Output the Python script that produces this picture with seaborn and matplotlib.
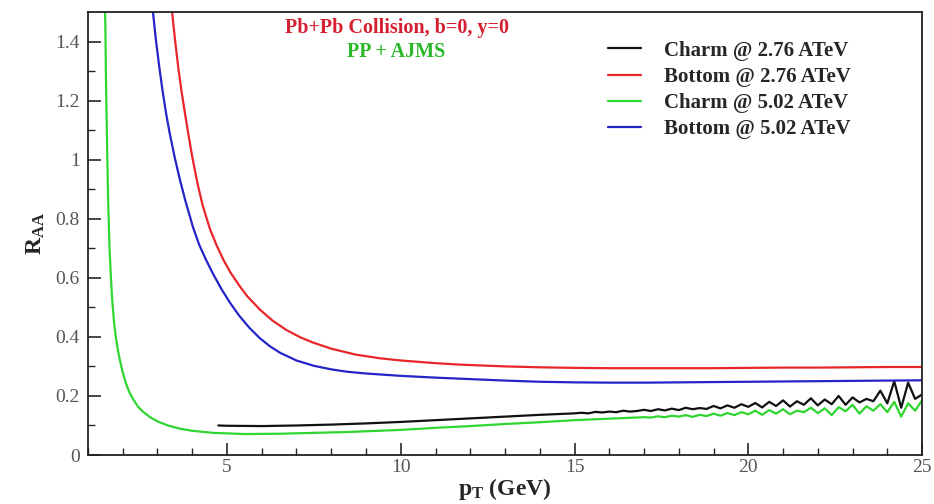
import numpy as np
import pandas as pd
import matplotlib
matplotlib.use("Agg")
import matplotlib.pyplot as plt
import seaborn as sns

# ---------------- data ----------------
charm276_x = [4.75, 5.0, 6.0, 7.0, 8.0, 9.0, 10.0, 11.0, 12.0, 13.0, 14.0, 15.0,
              15.2, 15.4, 15.6, 15.8, 16.0, 16.2, 16.4, 16.6, 16.8, 17.0,
              17.2, 17.4, 17.6, 17.8, 18.0, 18.2, 18.4, 18.6, 18.8, 19.0,
              19.2, 19.4, 19.6, 19.8, 20.0, 20.2, 20.4, 20.6, 20.8, 21.0,
              21.2, 21.4, 21.6, 21.8, 22.0, 22.2, 22.4, 22.6, 22.8, 23.0,
              23.2, 23.4, 23.6, 23.8, 24.0, 24.2, 24.4, 24.6, 24.8, 25.0]
charm276_y = [0.100, 0.099, 0.098, 0.100, 0.103, 0.107, 0.112, 0.118, 0.124, 0.130, 0.136, 0.141,
              0.143, 0.141, 0.146, 0.144, 0.147, 0.145, 0.150, 0.147, 0.149, 0.153,
              0.149, 0.155, 0.151, 0.157, 0.152, 0.160, 0.155, 0.159, 0.156, 0.166,
              0.158, 0.168, 0.160, 0.172, 0.163, 0.176, 0.161, 0.180, 0.166, 0.185,
              0.164, 0.182, 0.170, 0.192, 0.168, 0.188, 0.172, 0.200, 0.170, 0.195,
              0.178, 0.190, 0.182, 0.218, 0.175, 0.250, 0.160, 0.245, 0.190, 0.205]

bottom276_x = [3.38, 3.42, 3.50, 3.60, 3.70, 3.80, 3.90, 4.00, 4.15, 4.30, 4.51, 4.70, 4.90,
               5.10, 5.37, 5.58, 5.95, 6.30, 6.70, 7.10, 7.47, 8.00, 8.70, 9.40, 10.0, 11.0,
               11.7, 13.0, 14.0, 15.0, 16.0, 17.0, 18.0, 19.0, 20.0, 21.0, 22.0, 23.0, 24.0, 25.0]
bottom276_y = [1.56, 1.50, 1.41, 1.31, 1.225, 1.15, 1.078, 1.01, 0.92, 0.845, 0.765, 0.71, 0.66,
               0.618, 0.571, 0.538, 0.492, 0.456, 0.424, 0.399, 0.381, 0.360, 0.340, 0.3275, 0.320, 0.311,
               0.306, 0.300, 0.297, 0.295, 0.294, 0.294, 0.294, 0.294, 0.295, 0.296, 0.296, 0.297, 0.298, 0.298]

charm502_x = [1.48, 1.50, 1.52, 1.55, 1.58, 1.62, 1.66, 1.70, 1.75, 1.80, 1.86, 1.92, 2.00,
              2.10, 2.20, 2.32, 2.45, 2.60, 2.80, 3.00, 3.30, 3.65, 4.00, 4.60, 5.50, 6.50,
              7.50, 8.50, 10.0, 11.0, 12.0, 13.0, 14.0, 15.0, 16.0, 17.0,
              17.2, 17.4, 17.6, 17.8, 18.0, 18.2, 18.4, 18.6, 18.8, 19.0,
              19.2, 19.4, 19.6, 19.8, 20.0, 20.2, 20.4, 20.6, 20.8, 21.0,
              21.2, 21.4, 21.6, 21.8, 22.0, 22.2, 22.4, 22.6, 22.8, 23.0,
              23.2, 23.4, 23.6, 23.8, 24.0, 24.2, 24.4, 24.6, 24.8, 25.0]
charm502_y = [1.56, 1.45, 1.25, 1.05, 0.86, 0.70, 0.60, 0.52, 0.45, 0.40, 0.355, 0.32, 0.28,
              0.24, 0.21, 0.185, 0.162, 0.145, 0.127, 0.114, 0.100, 0.089, 0.082, 0.075, 0.071, 0.072,
              0.075, 0.078, 0.085, 0.092, 0.098, 0.105, 0.111, 0.118, 0.123, 0.128,
              0.127, 0.131, 0.128, 0.133, 0.130, 0.135, 0.129, 0.136, 0.132, 0.140,
              0.133, 0.142, 0.135, 0.145, 0.138, 0.150, 0.136, 0.152, 0.140, 0.155,
              0.138, 0.150, 0.145, 0.160, 0.142, 0.158, 0.135, 0.162, 0.148, 0.170,
              0.140, 0.165, 0.150, 0.172, 0.145, 0.180, 0.130, 0.175, 0.150, 0.185]

bottom502_x = [2.80, 2.87, 2.95, 3.05, 3.15, 3.25, 3.35, 3.50, 3.65, 3.80, 4.02, 4.20, 4.40,
               4.60, 4.85, 5.09, 5.35, 5.65, 5.95, 6.25, 6.53, 7.00, 7.50, 8.00, 8.45, 9.00,
               10.0, 11.0, 12.0, 13.0, 14.0, 15.0, 16.0, 17.0, 18.0, 19.0, 20.0, 21.0, 22.0,
               23.0, 24.0, 25.0]
bottom502_y = [1.57, 1.50, 1.41, 1.315, 1.23, 1.155, 1.09, 1.005, 0.93, 0.862, 0.772, 0.712, 0.66,
               0.613, 0.56, 0.515, 0.472, 0.43, 0.395, 0.367, 0.346, 0.320, 0.302, 0.290, 0.282, 0.276,
               0.268, 0.262, 0.257, 0.252, 0.248, 0.246, 0.245, 0.245, 0.246, 0.247, 0.248, 0.249, 0.250,
               0.251, 0.252, 0.253]

series_labels = ["Charm @ 2.76 ATeV", "Bottom @ 2.76 ATeV", "Charm @ 5.02 ATeV", "Bottom @ 5.02 ATeV"]
series_colors = ["#111111", "#e8262a", "#2fd62f", "#2424c8"]
x_ticks = [5, 10, 15, 20, 25]
y_ticks = [0, 0.2, 0.4, 0.6, 0.8, 1.0, 1.2, 1.4]
y_tick_labels = ["0", "0.2", "0.4", "0.6", "0.8", "1", "1.2", "1.4"]
annot_lines = ["Pb+Pb Collision, b=0, y=0", "PP + AJMS"]

# ---------------- plot ----------------
sns.set_theme(style="ticks")
plt.rcParams["font.family"] = ["Liberation Serif", "DejaVu Serif"]
plt.rcParams["mathtext.fontset"] = "custom"
plt.rcParams["mathtext.rm"] = "Liberation Serif:bold"
plt.rcParams["mathtext.bf"] = "Liberation Serif:bold"
plt.rcParams["mathtext.it"] = "Liberation Serif:bold"

fig = plt.figure(figsize=(9.34, 5.04), dpi=100)
ax = fig.add_axes([0.0942, 0.0972, 0.8930, 0.8790])

all_x = [charm276_x, bottom276_x, charm502_x, bottom502_x]
all_y = [charm276_y, bottom276_y, charm502_y, bottom502_y]
for xs, ys, lab, col in zip(all_x, all_y, series_labels, series_colors):
    sns.lineplot(x=xs, y=ys, ax=ax, color=col, linewidth=1.6, label=lab, sort=False)

ax.set_xlim(1, 25)
ax.set_ylim(0, 1.5)
ax.set_xticks(x_ticks)
ax.set_xticklabels([str(v) for v in x_ticks])
ax.set_yticks(y_ticks)
ax.set_yticklabels(y_tick_labels)
ax.set_xticks(np.arange(1, 25, 1), minor=True)
ax.set_yticks(np.arange(0.1, 1.5, 0.2), minor=True)
ax.tick_params(which="major", direction="in", length=9, width=1.2, labelsize=14,
               labelcolor="#555555", top=False, right=False)
ax.tick_params(axis="x", which="major", pad=3)
ax.tick_params(axis="y", which="major", pad=6)
ax.tick_params(which="minor", direction="in", length=5, width=1.0, top=False, right=False)
for s in ax.spines.values():
    s.set_linewidth(1.3)
    s.set_color("#222222")

ax.set_xlabel(r"$\mathbf{p_T}$ (GeV)", fontsize=17, fontweight="bold", labelpad=0)
ax.set_ylabel(r"$\mathbf{R_{AA}}$", fontsize=17, fontweight="bold", labelpad=6)

ax.text(0.37, 0.964, annot_lines[0], transform=ax.transAxes, color="#d42030",
        fontsize=14.5, fontweight="bold", ha="center", va="center")
ax.text(0.37, 0.910, annot_lines[1], transform=ax.transAxes, color="#2bb82b",
        fontsize=14.5, fontweight="bold", ha="center", va="center")

leg = ax.legend(loc="upper left", bbox_to_anchor=(0.613, 0.954), borderaxespad=0,
                frameon=False,
                prop={"family": "Liberation Serif", "weight": "bold", "size": 15},
                handlelength=1.6, handletextpad=1.1, labelspacing=0.3)

fig.savefig("out.png", dpi=100)
